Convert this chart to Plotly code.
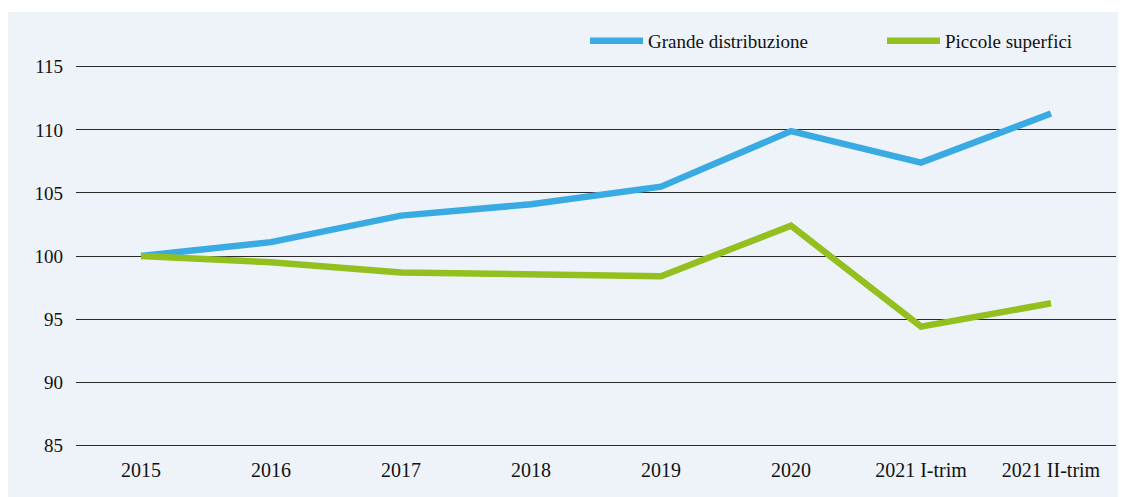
import plotly.graph_objects as go

categories = ["2015", "2016", "2017", "2018", "2019", "2020", "2021 I-trim", "2021 II-trim"]
grande = [100.0, 101.1, 103.2, 104.1, 105.5, 109.9, 107.4, 111.3]
piccole = [100.0, 99.5, 98.7, 98.55, 98.4, 102.4, 94.4, 96.25]
y_ticks = [85, 90, 95, 100, 105, 110, 115]

BG = "#EEF3FA"
FONT = "Liberation Serif"

W, H = 1126, 497
OFF = 8  # page body margin
pad = 0.3
ppu = 12.6
ml = 76 - OFF
mr = W - (1116 - OFF)
mt = int(round(67 - OFF - pad * ppu))
mb = int(round(H - (445 - OFF + pad * ppu)))
pw, ph = W - ml - mr, H - mt - mb

def px_x(p):
    return (p - OFF - ml) / pw

def px_y(p):
    return (H - mb - (p - OFF)) / ph

fig = go.Figure()
fig.add_trace(go.Scatter(x=categories, y=grande, mode="lines", name="Grande distribuzione",
                         line=dict(color="#3AABE2", width=6.5), legend="legend"))
fig.add_trace(go.Scatter(x=categories, y=piccole, mode="lines", name="Piccole superfici",
                         line=dict(color="#93C01F", width=6.5), legend="legend2"))

fig.add_shape(type="rect", xref="paper", yref="paper",
              x0=px_x(0), x1=px_x(W + 20),
              y0=px_y(H + 20), y1=px_y(12),
              fillcolor=BG, line_width=0, layer="below")

leg_common = dict(orientation="h", xanchor="left", yanchor="middle",
                  bgcolor="rgba(0,0,0,0)", itemwidth=53,
                  font=dict(family=FONT, size=19, color="#111111"))

fig.update_layout(
    width=W, height=H,
    margin=dict(l=ml, r=mr, t=mt, b=mb),
    paper_bgcolor="white", plot_bgcolor=BG,
    font=dict(family=FONT, size=18, color="#111111"),
    showlegend=True,
    legend=dict(x=px_x(585), y=px_y(41), **leg_common),
    legend2=dict(x=px_x(882), y=px_y(41), **leg_common),
    xaxis=dict(type="category", range=[-0.5, 7.5], showgrid=False, zeroline=False,
               showline=False, ticks="", ticklabelstandoff=7,
               tickfont=dict(family=FONT, size=20)),
    yaxis=dict(range=[85 - pad, 115 + pad], tickvals=y_ticks, showgrid=True,
               gridcolor="#2a2a2a", gridwidth=1.3, zeroline=False, showline=False,
               ticks="", ticklabelstandoff=12, tickfont=dict(family=FONT, size=19)),
)

fig.write_html("out.html")
